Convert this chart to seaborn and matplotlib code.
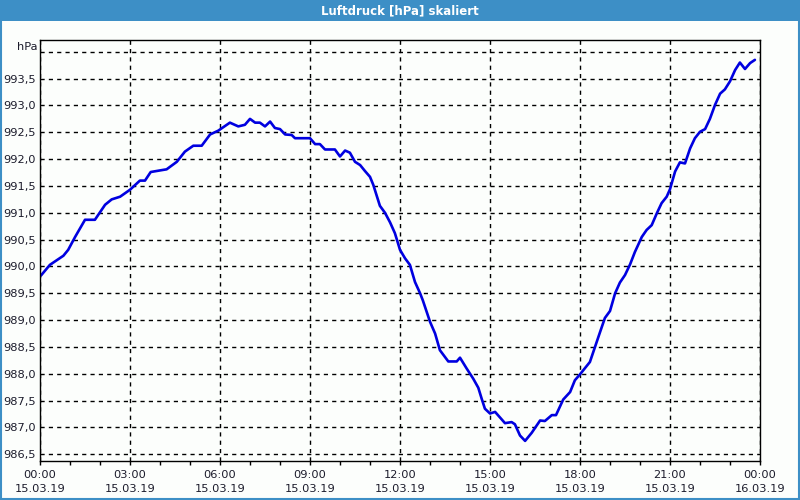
import matplotlib
matplotlib.use("Agg")
import matplotlib.pyplot as plt
import matplotlib.ticker as mticker
import matplotlib.transforms as mtransforms
from matplotlib.patches import Rectangle
import seaborn as sns
import pandas as pd

# --- data (hours since 15.03.19 00:00, pressure in hPa) ---
hours = [0.03, 0.33, 0.78, 0.94, 1.17, 1.5, 1.83, 2.17, 2.39, 2.67,
         3.0, 3.33, 3.5, 3.69, 4.11, 4.22, 4.56, 4.83, 5.11, 5.39,
         5.67, 5.94, 6.33, 6.61, 6.83, 7.0, 7.17, 7.33, 7.5, 7.67,
         7.83, 8.0, 8.17, 8.39, 8.5, 9.0, 9.17, 9.33, 9.5, 9.83,
         10.0, 10.17, 10.33, 10.5, 10.67, 10.83, 11.0, 11.11, 11.33, 11.5,
         11.67, 11.83, 12.0, 12.17, 12.33, 12.5, 12.67, 12.76, 13.0, 13.17,
         13.33, 13.61, 13.89, 14.0, 14.22, 14.44, 14.61, 14.72, 14.83, 15.0,
         15.17, 15.5, 15.72, 15.83, 16.0, 16.17, 16.39, 16.67, 16.83, 17.06,
         17.2, 17.44, 17.67, 17.83, 18.0, 18.33, 18.5, 18.67, 18.83, 19.0,
         19.17, 19.33, 19.5, 19.67, 19.83, 20.06, 20.22, 20.39, 20.56, 20.72,
         20.89, 21.0, 21.17, 21.33, 21.5, 21.67, 21.83, 22.0, 22.17, 22.33,
         22.5, 22.67, 22.83, 23.0, 23.17, 23.33, 23.5, 23.67, 23.83]
pressure = [989.83, 990.03, 990.20, 990.31, 990.55, 990.87, 990.87, 991.15, 991.25, 991.30,
            991.43, 991.60, 991.60, 991.76, 991.80, 991.81, 991.95, 992.14, 992.25, 992.25,
            992.46, 992.53, 992.68, 992.61, 992.64, 992.75, 992.68, 992.68, 992.61, 992.70,
            992.58, 992.56, 992.46, 992.45, 992.39, 992.39, 992.28, 992.28, 992.18, 992.18,
            992.05, 992.16, 992.12, 991.95, 991.89, 991.78, 991.67, 991.52, 991.13, 991.00,
            990.82, 990.62, 990.31, 990.15, 990.03, 989.71, 989.50, 989.37, 988.97, 988.75,
            988.44, 988.23, 988.23, 988.30, 988.10, 987.91, 987.74, 987.54, 987.35, 987.26,
            987.29, 987.08, 987.10, 987.06, 986.85, 986.75, 986.90, 987.13, 987.12, 987.23,
            987.23, 987.52, 987.66, 987.88, 987.99, 988.22, 988.50, 988.78, 989.04, 989.17,
            989.50, 989.70, 989.84, 990.04, 990.27, 990.55, 990.68, 990.77, 990.99, 991.18,
            991.30, 991.44, 991.77, 991.94, 991.92, 992.20, 992.39, 992.51, 992.56, 992.75,
            993.01, 993.22, 993.30, 993.45, 993.66, 993.80, 993.68, 993.79, 993.85]

x_ticks = [0, 3, 6, 9, 12, 15, 18, 21, 24]
x_labels = ["00:00\n15.03.19", "03:00\n15.03.19", "06:00\n15.03.19", "09:00\n15.03.19",
            "12:00\n15.03.19", "15:00\n15.03.19", "18:00\n15.03.19", "21:00\n15.03.19",
            "00:00\n16.03.19"]
y_ticks = [986.5, 987.0, 987.5, 988.0, 988.5, 989.0, 989.5, 990.0, 990.5, 991.0,
           991.5, 992.0, 992.5, 993.0, 993.5, 994.0]
y_labels = ["986,5", "987,0", "987,5", "988,0", "988,5", "989,0", "989,5", "990,0",
            "990,5", "991,0", "991,5", "992,0", "992,5", "993,0", "993,5", ""]
title = "Luftdruck [hPa] skaliert"
unit = "hPa"

df = pd.DataFrame({"h": hours, "p": pressure})

sns.set_style("white")
plt.rcParams["font.family"] = ["DejaVu Sans"]
txt = "#1c1c2c"
bar_col = "#3d8fc6"

fig = plt.figure(figsize=(8, 5), dpi=100, facecolor="#fcfefc")
ax = fig.add_axes([40 / 800, 1 - 461 / 500, 720 / 800, 421 / 500])
ax.set_facecolor("#fcfefc")

sns.lineplot(data=df, x="h", y="p", ax=ax, color="#0000e0", linewidth=1.9)

ax.set_xlim(0, 24)
ax.set_ylim(986.375, 994.22)
ax.set_xticks(x_ticks)
ax.set_xticklabels(x_labels, fontsize=8.2, color=txt, linespacing=1.45)
ax.xaxis.set_minor_locator(mticker.MultipleLocator(1))
ax.set_yticks(y_ticks)
ax.set_yticklabels(y_labels, fontsize=8.2, color=txt)
ax.tick_params(axis="x", which="both", direction="out", length=3, width=1,
               color="black", pad=3.5, bottom=True)
ax.tick_params(axis="y", length=0, pad=3)
ax.set_xlabel("")
ax.set_ylabel("")
ax.grid(True, which="major", color="black", linestyle=(0, (3, 3)), linewidth=1)
for s in ax.spines.values():
    s.set_color("black")
    s.set_linewidth(1)

trans = mtransforms.blended_transform_factory(ax.transAxes, ax.transData)
ax.text(-0.004, 994.0, unit, transform=trans, ha="right", va="bottom",
        fontsize=8.2, color=txt)

# window frame and title bar
fig.patches.append(Rectangle((0, 1 - 21 / 500), 1, 21 / 500, transform=fig.transFigure,
                             facecolor=bar_col, edgecolor="none", zorder=0))
fig.patches.append(Rectangle((0.75 / 800, 0.75 / 500), 798.5 / 800, 498.5 / 500,
                             transform=fig.transFigure, facecolor="none",
                             edgecolor=bar_col, linewidth=1.5, zorder=0))
fig.text(0.5, 1 - 10.5 / 500, title, ha="center", va="center", color="white",
         fontsize=8.5, fontweight="bold")

fig.savefig("out.png", dpi=100, facecolor=fig.get_facecolor())
